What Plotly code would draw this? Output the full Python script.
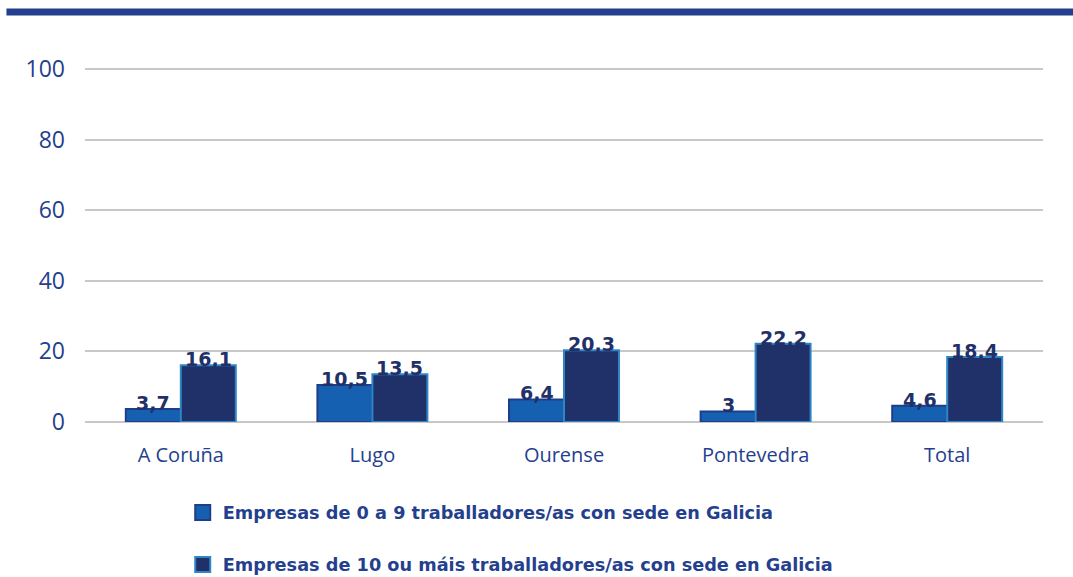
import plotly.graph_objects as go

categories = ["A Coruña", "Lugo", "Ourense", "Pontevedra", "Total"]
small_firms = [3.7, 10.5, 6.4, 3, 4.6]
large_firms = [16.1, 13.5, 20.3, 22.2, 18.4]
series_names = [
    "Empresas de 0 a 9 traballadores/as con sede en Galicia",
    "Empresas de 10 ou máis traballadores/as con sede en Galicia",
]
y_ticks = [0, 20, 40, 60, 80, 100]

BOLD_FONT = "DejaVu Sans"
FONT = "Open Sans"
NAVY = "#1f3168"
MID_BLUE = "#1560b0"
TEXT_BLUE = "#243f8e"

styles = [
    dict(color=MID_BLUE, line=dict(color="#1f3e8a", width=2)),
    dict(color=NAVY, line=dict(color="#2e86c8", width=2)),
]

fig = go.Figure()
for name, vals, st, grp in zip(series_names, (small_firms, large_firms), styles, ("a", "b")):
    fig.add_trace(go.Bar(
        x=categories, y=vals, name=name, legendgroup=grp,
        showlegend=False, marker=st,
    ))
    # legend entry with a larger square swatch
    fig.add_trace(go.Scatter(
        x=[None], y=[None], mode="markers", name=name, legendgroup=grp,
        marker=dict(symbol="square", size=15, color=st["color"],
                    line=dict(color=st["line"]["color"], width=2)),
    ))

# value labels sitting on the top edge of each bar
def fmt(v):
    return f"{v:g}".replace(".", ",")

bar_half = 27.5
for vals, shift in ((small_firms, -bar_half), (large_firms, bar_half)):
    for c, v in zip(categories, vals):
        fig.add_annotation(
            x=c, y=v, text=fmt(v), showarrow=False, xshift=shift,
            yanchor="bottom", yshift=-7,
            font=dict(family=BOLD_FONT, size=19, color=NAVY, weight="bold"),
        )

# header band
fig.add_shape(type="line", xref="paper", yref="paper",
              x0=-0.082, x1=1.04, y0=1.158, y1=1.158,
              line=dict(color="#233f8e", width=7))

fig.update_layout(
    width=1073, height=577,
    margin=dict(l=85, r=30, t=68, b=155, autoexpand=False),
    paper_bgcolor="white", plot_bgcolor="white",
    barmode="group", bargap=0.426, bargroupgap=0,
    font=dict(family=FONT, color=TEXT_BLUE),
    showlegend=True,
    legend=dict(
        orientation="v", x=0.102, y=-0.205, xanchor="left", yanchor="top",
        tracegroupgap=26,
        font=dict(family=BOLD_FONT, size=17.7, color=TEXT_BLUE, weight="bold"),
    ),
    xaxis=dict(
        showgrid=False, showline=False, ticks="",
        tickfont=dict(family=FONT, size=20, color=TEXT_BLUE),
        ticklabelstandoff=19,
    ),
    yaxis=dict(
        range=[0, 100.3], tickvals=y_ticks, showgrid=True,
        gridcolor="#c8c8c8", gridwidth=2, zeroline=True,
        zerolinecolor="#c8c8c8", zerolinewidth=2,
        tickfont=dict(family=FONT, size=23, color=TEXT_BLUE),
        ticklabelstandoff=19,
    ),
)

fig.write_html("out.html")
